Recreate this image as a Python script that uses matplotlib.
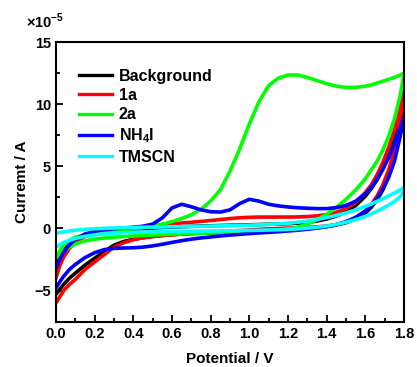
import numpy as np
import matplotlib
matplotlib.use('Agg')
import matplotlib.pyplot as plt
from matplotlib.ticker import MultipleLocator

plt.rcParams['font.family'] = ['Liberation Sans', 'DejaVu Sans']
plt.rcParams['font.weight'] = 'bold'
plt.rcParams['mathtext.fontset'] = 'custom'
plt.rcParams['mathtext.rm'] = 'Liberation Sans:bold'
plt.rcParams['mathtext.bf'] = 'Liberation Sans:bold'

# potential grid (V), shared by every branch
potential = [0, 0.02, 0.04, 0.07, 0.1, 0.15, 0.2, 0.25, 0.3, 0.35, 0.4, 0.45, 0.5, 0.55,
             0.6, 0.65, 0.7, 0.75, 0.8, 0.85, 0.9, 0.95, 1.0, 1.05, 1.1, 1.15, 1.2, 1.25,
             1.3, 1.35, 1.4, 1.45, 1.5, 1.55, 1.6, 1.63, 1.66, 1.69, 1.72, 1.75, 1.78, 1.8]

# current in units of 1e-5 A; "up" and "down" are the two branches of each loop
bg_up = [-3.0, -2.3, -1.75, -1.2, -0.85, -0.5, -0.32, -0.22, -0.15, -0.1, -0.05, 0.0, 0.04, 0.08,
         0.11, 0.14, 0.17, 0.2, 0.22, 0.24, 0.26, 0.28, 0.3, 0.32, 0.34, 0.36, 0.39, 0.43,
         0.5, 0.6, 0.76, 1.0, 1.35, 1.85, 2.6, 3.2, 3.9, 4.8, 5.9, 7.2, 8.9, 10.0]
bg_down = [-5.3, -4.9, -4.5, -4.0, -3.6, -2.95, -2.4, -1.85, -1.35, -1.05, -0.87, -0.74, -0.64, -0.56,
           -0.5, -0.45, -0.41, -0.38, -0.35, -0.32, -0.3, -0.27, -0.25, -0.22, -0.2, -0.16, -0.12, -0.07,
           -0.01, 0.06, 0.15, 0.28, 0.47, 0.78, 1.25, 1.7, 2.3, 3.1, 4.2, 5.7, 7.9, 10.0]

s1a_up = [-4.0, -3.0, -2.3, -1.6, -1.1, -0.65, -0.4, -0.25, -0.12, -0.02, 0.07, 0.15, 0.23, 0.3,
          0.37, 0.44, 0.5, 0.57, 0.64, 0.72, 0.8, 0.86, 0.9, 0.92, 0.92, 0.92, 0.92, 0.93,
          0.96, 1.02, 1.12, 1.3, 1.6, 2.1, 2.9, 3.5, 4.3, 5.3, 6.5, 7.9, 9.8, 11.1]
s1a_down = [-6.0, -5.5, -5.0, -4.5, -4.1, -3.3, -2.7, -2.1, -1.5, -1.15, -0.9, -0.75, -0.65, -0.57,
            -0.5, -0.45, -0.4, -0.36, -0.32, -0.27, -0.22, -0.17, -0.12, -0.07, -0.03, 0.0, 0.03, 0.06,
            0.09, 0.13, 0.2, 0.32, 0.5, 0.85, 1.4, 1.9, 2.6, 3.5, 4.7, 6.3, 8.6, 11.1]

s2a_up = [-2.4, -1.8, -1.35, -0.95, -0.7, -0.5, -0.37, -0.27, -0.18, -0.1, -0.02, 0.08, 0.2, 0.35,
          0.55, 0.8, 1.1, 1.55, 2.2, 3.1, 4.6, 6.4, 8.4, 10.2, 11.5, 12.1, 12.35, 12.35,
          12.15, 11.9, 11.65, 11.45, 11.35, 11.35, 11.45, 11.55, 11.7, 11.85, 12.0, 12.15, 12.35, 12.5]
s2a_down = [-2.4, -2.05, -1.8, -1.5, -1.25, -1.0, -0.86, -0.77, -0.7, -0.65, -0.6, -0.56, -0.53, -0.5,
            -0.46, -0.43, -0.4, -0.38, -0.36, -0.34, -0.32, -0.3, -0.28, -0.25, -0.2, -0.15, -0.05, 0.1,
            0.35, 0.7, 1.15, 1.7, 2.35, 3.1, 4.0, 4.7, 5.4, 6.3, 7.4, 8.8, 10.7, 12.5]

nh4i_up = [-3.2, -2.5, -1.9, -1.3, -0.9, -0.45, -0.22, -0.1, -0.02, 0.04, 0.1, 0.18, 0.35, 0.85,
           1.65, 1.95, 1.75, 1.5, 1.35, 1.32, 1.5, 2.0, 2.35, 2.2, 1.95, 1.82, 1.73, 1.67,
           1.63, 1.6, 1.6, 1.68, 1.85, 2.2, 2.8, 3.3, 3.95, 4.75, 5.7, 6.8, 8.1, 9.0]
nh4i_down = [-4.8, -4.3, -3.85, -3.3, -2.9, -2.35, -1.95, -1.7, -1.6, -1.57, -1.55, -1.5, -1.4, -1.27,
             -1.12, -0.98, -0.86, -0.76, -0.68, -0.6, -0.53, -0.47, -0.41, -0.36, -0.31, -0.26, -0.2, -0.14,
             -0.06, 0.03, 0.15, 0.32, 0.55, 0.9, 1.4, 1.85, 2.4, 3.15, 4.1, 5.4, 7.4, 9.0]

tmscn_up = [-0.4, -0.33, -0.27, -0.2, -0.14, -0.07, -0.02, 0.01, 0.04, 0.06, 0.08, 0.1, 0.11, 0.12,
            0.14, 0.15, 0.17, 0.18, 0.2, 0.21, 0.23, 0.25, 0.27, 0.3, 0.33, 0.37, 0.42, 0.5,
            0.6, 0.73, 0.88, 1.05, 1.25, 1.5, 1.78, 1.97, 2.18, 2.4, 2.62, 2.85, 3.1, 3.3]
tmscn_down = [-1.5, -1.3, -1.13, -0.95, -0.8, -0.63, -0.52, -0.44, -0.38, -0.34, -0.31, -0.29, -0.27, -0.25,
              -0.24, -0.23, -0.22, -0.21, -0.2, -0.19, -0.18, -0.17, -0.16, -0.14, -0.12, -0.1, -0.07, -0.03,
              0.03, 0.1, 0.2, 0.33, 0.5, 0.72, 0.98, 1.17, 1.38, 1.62, 1.88, 2.17, 2.55, 3.0]

labels = ['Background', '1a', '2a', 'NH$_\\mathbf{4}$I', 'TMSCN']
colors = ['#000000', '#ff0000', '#00ff00', '#0000ff', '#00ffff']
branches = [(bg_up, bg_down), (s1a_up, s1a_down), (s2a_up, s2a_down),
            (nh4i_up, nh4i_down), (tmscn_up, tmscn_down)]

fig = plt.figure(figsize=(4.17, 3.67), dpi=100)
ax = fig.add_axes([0.134, 0.1234, 0.835, 0.762])

x = np.array(potential)
for (up, down), c, lab in zip(branches, colors, labels):
    xs = np.concatenate([x, x[::-1]])
    ys = np.concatenate([up, down[::-1]])
    ax.plot(xs, ys, color=c, lw=2.6, solid_joinstyle='round')
    ax.plot([], [], color=c, lw=2.4, label=lab)

ax.set_xlim(0, 1.8)
ax.set_ylim(-7.5, 15)
ax.xaxis.set_major_locator(MultipleLocator(0.2))
ax.xaxis.set_minor_locator(MultipleLocator(0.1))
ax.yaxis.set_major_locator(MultipleLocator(5))
ax.yaxis.set_minor_locator(MultipleLocator(2.5))
ax.xaxis.set_major_formatter(plt.FuncFormatter(lambda v, p: f'{v:.1f}'))
ax.yaxis.set_major_formatter(plt.FuncFormatter(lambda v, p: f'{v:.0f}'.replace('-', '\u2212')))
ax.tick_params(which='both', direction='in', width=1.3, labelsize=10.5)
ax.tick_params(which='major', length=5)
ax.tick_params(which='minor', length=3)
for s in ax.spines.values():
    s.set_linewidth(1.5)

ax.set_xlabel('Potential / V', fontsize=11, fontweight='bold', labelpad=8)
ax.set_ylabel('Curremt / A', fontsize=11, fontweight='bold', labelpad=4)
ax.text(-0.085, 1.04, '\u00d710$^{\\mathbf{\u22125}}$', transform=ax.transAxes,
        fontsize=10.5, fontweight='bold', va='bottom', ha='left')

leg = ax.legend(loc='upper left', bbox_to_anchor=(0.066, 0.905), frameon=False,
                fontsize=11.5, handlelength=2.1, handletextpad=0.4, labelspacing=0.27,
                borderpad=0, borderaxespad=0)
for t in leg.get_texts():
    t.set_fontweight('bold')

fig.savefig('out.png', dpi=100)
